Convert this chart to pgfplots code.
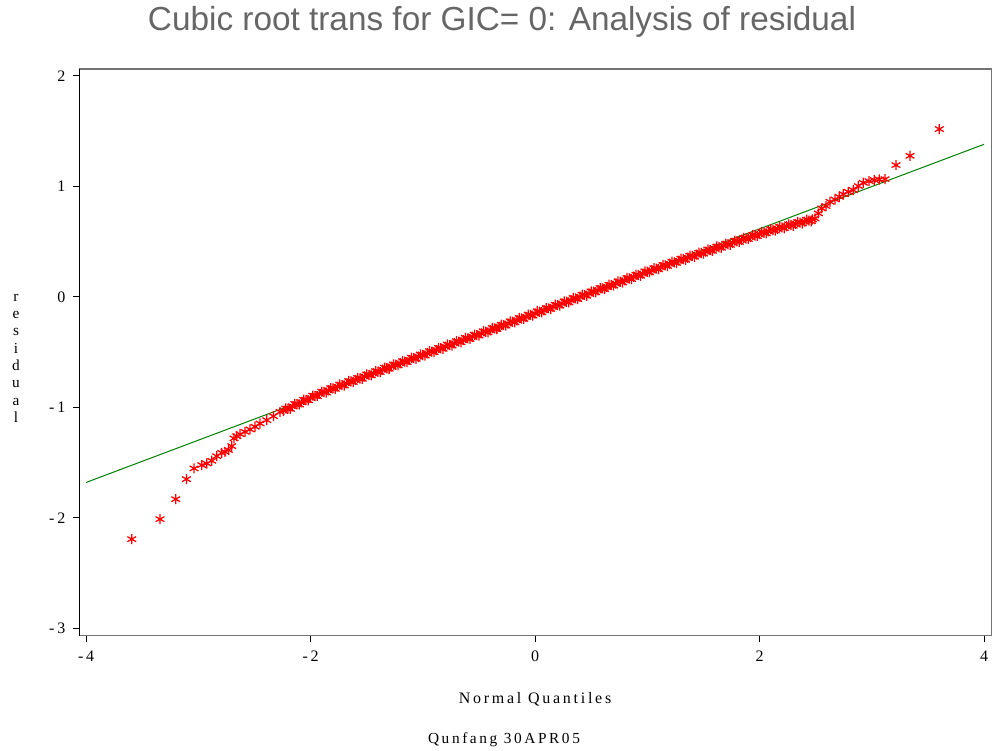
\documentclass[border=0pt]{standalone}
\usepackage{fontspec}
\usepackage{pgfplots}
\pgfplotsset{compat=1.18}
\setmainfont{Liberation Serif}
\newfontfamily\titlefont{Liberation Sans}
\newfontfamily\spacedfont[LetterSpace=17]{Liberation Serif}
\definecolor{sasgreen}{RGB}{0,128,0}
\definecolor{sasred}{RGB}{255,0,0}
\begin{document}
\begin{tikzpicture}
\useasboundingbox (-59.5pt,-85.7pt) rectangle (686pt,476.8pt);
\begin{axis}[
  at={(0pt,0pt)}, anchor=south west,
  scale only axis, width=684.3pt, height=425pt,
  xmin=-4.06, xmax=4.069, ymin=-3.067, ymax=2.061,
  xtick={-4,-2,0,2,4}, xticklabels={-4,-2,0,2,4},
  ytick={-3,-2,-1,0,1,2}, yticklabels={-3,-2,-1,0,1,2},
  xtick pos=bottom, ytick pos=left, tick align=outside,
  major tick length=5pt,
  tick style={black, line width=0.6pt},
  axis line style={draw=black!55, line width=0.9pt},
  tick label style={font=\fontsize{12}{14}\spacedfont},
  xticklabel style={yshift=-3pt},
  yticklabel style={xshift=-2pt},
  xlabel={Normal Quantiles},
  xlabel style={at={(axis description cs:0.4995,0)}, anchor=center, yshift=-48pt, font=\fontsize{12}{14}\spacedfont},
  every axis y label/.style={at={(axis description cs:0,0.49)}, anchor=center, xshift=-47.5pt, align=center, font=\fontsize{11.5}{13}\spacedfont},
  ylabel={r\\e\\s\\i\\d\\u\\a\\l},
  clip=false,
]
\draw[black, line width=0.9pt] (rel axis cs:0,0) -- (rel axis cs:0,1);
\addplot[only marks, mark=asterisk, mark size=3.8pt, color=sasred, mark options={line width=0.95pt}] coordinates {
(-3.593,-2.193) (-3.341,-2.012) (-3.201,-1.831) (-3.106,-1.650) (-3.038,-1.553)
(-2.969,-1.523) (-2.925,-1.508) (-2.880,-1.484) (-2.836,-1.442) (-2.791,-1.412)
(-2.762,-1.403) (-2.732,-1.387) (-2.702,-1.351) (-2.682,-1.281) (-2.657,-1.261)
(-2.628,-1.243) (-2.583,-1.222) (-2.539,-1.200) (-2.494,-1.176) (-2.450,-1.146)
(-2.390,-1.116) (-2.331,-1.080) (-2.272,-1.041)
(-2.24,-1.032) (-2.20,-1.012) (-2.16,-0.991) (-2.12,-0.971) (-2.08,-0.954)
(-2.04,-0.934) (-2.00,-0.915) (-1.96,-0.896) (-1.92,-0.878) (-1.88,-0.861)
(-1.84,-0.846) (-1.80,-0.829) (-1.76,-0.813) (-1.72,-0.799) (-1.68,-0.783)
(-1.64,-0.765) (-1.60,-0.752) (-1.56,-0.739) (-1.52,-0.721) (-1.48,-0.707)
(-1.44,-0.691) (-1.40,-0.678) (-1.36,-0.660) (-1.32,-0.646) (-1.28,-0.632)
(-1.24,-0.615) (-1.20,-0.601) (-1.16,-0.586) (-1.12,-0.571) (-1.08,-0.555)
(-1.04,-0.542) (-1.00,-0.526) (-0.96,-0.511) (-0.92,-0.496) (-0.88,-0.482)
(-0.84,-0.465) (-0.80,-0.451) (-0.76,-0.437) (-0.72,-0.420) (-0.68,-0.406)
(-0.64,-0.392) (-0.60,-0.376) (-0.56,-0.361) (-0.52,-0.347) (-0.48,-0.331)
(-0.44,-0.316) (-0.40,-0.302) (-0.36,-0.286) (-0.32,-0.272) (-0.28,-0.256)
(-0.24,-0.242) (-0.20,-0.226) (-0.16,-0.212) (-0.12,-0.196) (-0.08,-0.182)
(-0.04,-0.165) (0.00,-0.151) (0.04,-0.135) (0.08,-0.121) (0.12,-0.105)
(0.16,-0.091) (0.20,-0.075) (0.24,-0.060) (0.28,-0.045) (0.32,-0.031)
(0.36,-0.014) (0.40,0.000) (0.44,0.015) (0.48,0.030) (0.52,0.046)
(0.56,0.060) (0.60,0.076) (0.64,0.090) (0.68,0.106) (0.72,0.120)
(0.76,0.136) (0.80,0.150) (0.84,0.166) (0.88,0.181) (0.92,0.196)
(0.96,0.210) (1.00,0.227) (1.04,0.240) (1.08,0.255) (1.12,0.269)
(1.16,0.284) (1.20,0.299) (1.24,0.312) (1.28,0.327) (1.32,0.341)
(1.36,0.354) (1.40,0.369) (1.44,0.382) (1.48,0.396) (1.52,0.409)
(1.56,0.423) (1.60,0.436) (1.64,0.449) (1.68,0.463) (1.72,0.476)
(1.76,0.489) (1.80,0.503) (1.84,0.516) (1.88,0.528) (1.92,0.541)
(1.96,0.555) (2.00,0.568) (2.04,0.580) (2.08,0.593) (2.12,0.605)
(2.16,0.616) (2.20,0.628) (2.24,0.639) (2.28,0.650) (2.32,0.660)
(2.36,0.671) (2.40,0.680) (2.44,0.690) (2.47,0.700)
(2.494,0.709) (2.524,0.755) (2.554,0.800) (2.592,0.821) (2.628,0.860)
(2.673,0.881) (2.711,0.905) (2.747,0.929) (2.791,0.950) (2.836,0.966)
(2.880,1.002) (2.925,1.032) (2.976,1.047) (3.023,1.056) (3.067,1.062)
(3.118,1.065) (3.216,1.192) (3.341,1.276) (3.602,1.518)
(-2.22,-1.010) (-2.18,-1.014) (-2.14,-0.969) (-2.10,-0.975) (-2.06,-0.932)
(-2.02,-0.937) (-1.98,-0.894) (-1.94,-0.899) (-1.90,-0.858) (-1.86,-0.866)
(-1.82,-0.826) (-1.78,-0.833) (-1.74,-0.794) (-1.70,-0.803) (-1.66,-0.762)
(-1.62,-0.771) (-1.58,-0.734) (-1.54,-0.742) (-1.50,-0.702) (-1.46,-0.711)
(-1.42,-0.673) (-1.38,-0.681) (-1.34,-0.641) (-1.30,-0.651) (-1.26,-0.612)
(-1.22,-0.620) (-1.18,-0.582) (-1.14,-0.591) (-1.10,-0.551) (-1.06,-0.561)
(-1.02,-0.522) (-0.98,-0.531) (-0.94,-0.492) (-0.90,-0.501) (-0.86,-0.462)
(-0.82,-0.471) (-0.78,-0.432) (-0.74,-0.441) (-0.70,-0.402) (-0.66,-0.411)
(-0.62,-0.372) (-0.58,-0.381) (-0.54,-0.343) (-0.50,-0.351) (-0.46,-0.312)
(-0.42,-0.322) (-0.38,-0.282) (-0.34,-0.291) (-0.30,-0.253) (-0.26,-0.261)
(-0.22,-0.222) (-0.18,-0.231) (-0.14,-0.192) (-0.10,-0.200) (-0.06,-0.161)
(-0.02,-0.170) (0.02,-0.131) (0.06,-0.140) (0.10,-0.102) (0.14,-0.110)
(0.18,-0.071) (0.22,-0.080) (0.26,-0.041) (0.30,-0.050) (0.34,-0.011)
(0.38,-0.020) (0.42,0.020) (0.46,0.010) (0.50,0.049) (0.54,0.041)
(0.58,0.080) (0.62,0.070) (0.66,0.109) (0.70,0.101) (0.74,0.140)
(0.78,0.130) (0.82,0.170) (0.86,0.161) (0.90,0.200) (0.94,0.191)
(0.98,0.230) (1.02,0.221) (1.06,0.259) (1.10,0.250) (1.14,0.288)
(1.18,0.279) (1.22,0.318) (1.26,0.307) (1.30,0.345) (1.34,0.336)
(1.38,0.373) (1.42,0.363) (1.46,0.400) (1.50,0.391) (1.54,0.428)
(1.58,0.417) (1.62,0.455) (1.66,0.444) (1.70,0.481) (1.74,0.471)
(1.78,0.508) (1.82,0.497) (1.86,0.533) (1.90,0.523) (1.94,0.560)
(1.98,0.549) (2.02,0.586) (2.06,0.574) (2.10,0.611) (2.14,0.599)
(2.18,0.634) (2.22,0.621) (2.26,0.656) (2.30,0.643) (2.34,0.677)
(2.38,0.663) (2.42,0.698) (2.46,0.683)
};
\addplot[color=sasgreen, line width=0.75pt] coordinates {(-4,-1.68) (4,1.38)};
\end{axis}
\node[font=\fontsize{25}{29}\titlefont, text=black!60] at (317pt,460.3pt) {Cubic root trans for GIC= 0: Analysis of residual};
\node[font=\fontsize{11.5}{13}\spacedfont] at (318.5pt,-78.2pt) {Qunfang 30APR05};
\end{tikzpicture}
\end{document}
